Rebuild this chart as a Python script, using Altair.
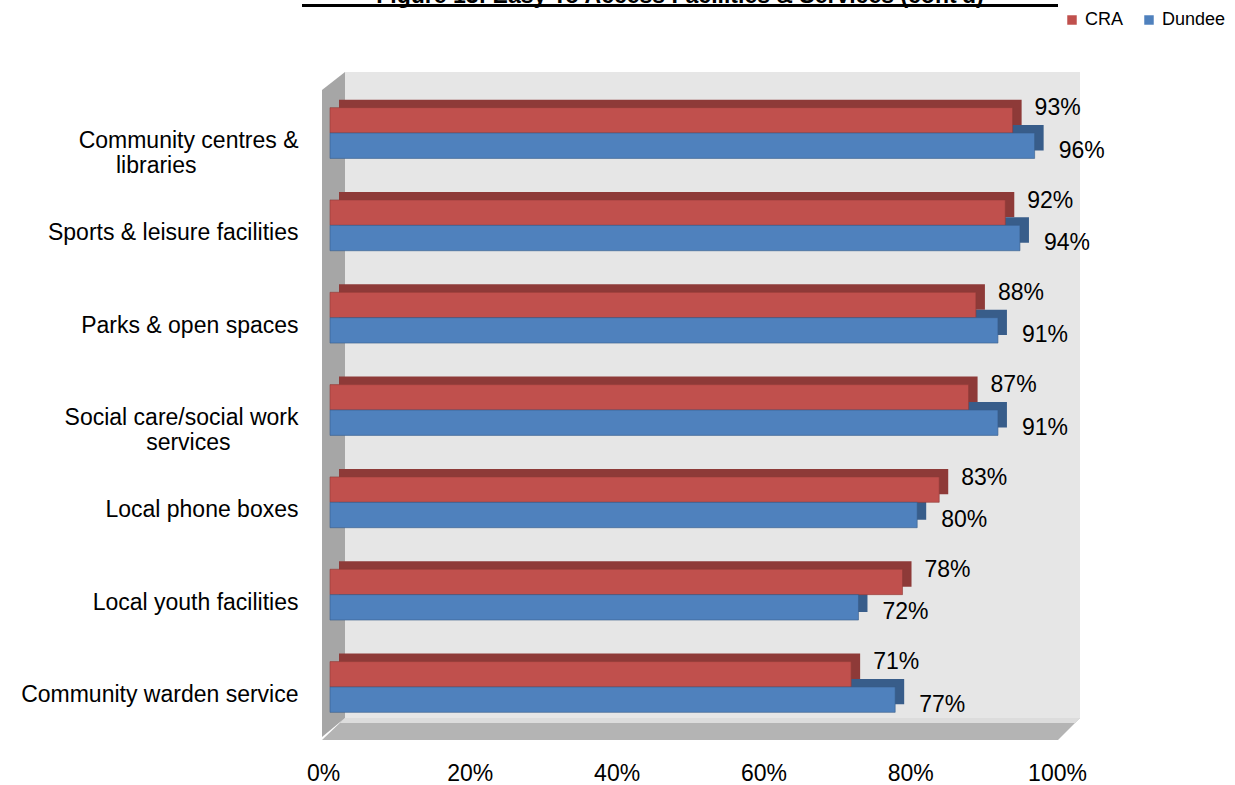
import altair as alt
import pandas as pd

# ---- data ----
PADCH = "\u2800"
categories = [
    "Community centres &|libraries" + PADCH * 6,
    "Sports & leisure  facilities",
    "Parks & open spaces",
    "Social care/social work|services" + PADCH * 4,
    "Local phone boxes",
    "Local youth facilities",
    "Community warden service",
]
cra = [0.93, 0.92, 0.88, 0.87, 0.83, 0.78, 0.71]
dundee = [0.96, 0.94, 0.91, 0.91, 0.80, 0.72, 0.77]
series = ["CRA", "Dundee"]
front_colors = ["#c0504d", "#4f81bd"]
depth_colors = ["#8e3a38", "#385d8a"]
x_ticks = [0, 0.2, 0.4, 0.6, 0.8, 1.0]
title_text = "Figure 13: Easy To Access Facilities & Services (cont'd)"

rows = []
for c, a, b in zip(categories, cra, dundee):
    rows.append({"category": c, "series": "CRA", "value": a})
    rows.append({"category": c, "series": "Dundee", "value": b})
df = pd.DataFrame(rows)

FONT = "Liberation Sans"
FS = 23
W, H = 734, 676
PAD_L, PAD_T = 330, 72
P_IN, P_OUT = 0.45, 0.386
STEP = H / (len(categories) - P_IN + 2 * P_OUT)
BW = STEP * (1 - P_IN)
DEPTH = 8

y_enc = alt.Y(
    "category:N",
    sort=categories,
    scale=alt.Scale(paddingInner=P_IN, paddingOuter=P_OUT),
    axis=alt.Axis(
        title=None,
        labelExpr="split(datum.label, '|')",
        labelFontSize=FS,
        labelFont=FONT,
        labelColor="#000000",
        labelLineHeight=25,
        labelPadding=32,
        labelOffset=8,
        labelLimit=500,
        domain=False,
        ticks=False,
        grid=False,
    ),
)
x_enc = alt.X(
    "value:Q",
    scale=alt.Scale(domain=[0, 1]),
    axis=alt.Axis(
        title=None,
        values=x_ticks,
        format=".0%",
        labelFontSize=FS,
        labelFont=FONT,
        labelColor="#000000",
        labelPadding=14,
        labelOffset=-7,
        labelFlush=False,
        domain=False,
        ticks=False,
        grid=False,
    ),
)
yoff_front = alt.YOffset("series:N", sort=series, scale=alt.Scale(domain=series, range=[0, BW]))
yoff_depth = alt.YOffset("series:N", sort=series, scale=alt.Scale(domain=series, range=[-DEPTH, BW - DEPTH]))

base = alt.Chart(df)

# ---- 3D box decoration (walls, floor) ----
back_wall = alt.Chart(pd.DataFrame({"a": [0]})).mark_rect(color="#e6e6e6").encode(
    x=alt.value(15), x2=alt.value(750), y=alt.value(0), y2=alt.value(646)
)
left_wall_df = pd.DataFrame({"px": [-8, 15], "top": [18, 0], "bot": [665, 646]})
left_wall = alt.Chart(left_wall_df).mark_area(color="#a6a6a6", orient="vertical").encode(
    x=alt.X("px:Q", scale=None),
    y=alt.Y("top:Q", scale=None),
    y2="bot:Q",
)
floor_df = pd.DataFrame({"py": [646, 668], "left": [15, -8], "right": [750, 728]})
floor = alt.Chart(floor_df).mark_area(color="#b4b4b4", orient="horizontal").encode(
    y=alt.Y("py:Q", scale=None),
    x=alt.X("left:Q", scale=None),
    x2="right:Q",
)
floor_top_df = pd.DataFrame({"py": [646, 651], "left": [15, 10], "right": [750, 745]})
floor_top = alt.Chart(floor_top_df).mark_area(color="#dcdcdc", orient="horizontal").encode(
    y=alt.Y("py:Q", scale=None),
    x=alt.X("left:Q", scale=None),
    x2="right:Q",
)

color_depth = alt.Color("series:N", scale=alt.Scale(domain=series, range=depth_colors), legend=None)
color_front = alt.Color(
    "series:N",
    scale=alt.Scale(domain=series, range=front_colors),
    legend=alt.Legend(
        title=None,
        orient="none",
        direction="horizontal",
        legendX=733,
        legendY=-61,
        symbolType="square",
        symbolSize=90,
        symbolStrokeWidth=0,
        labelFontSize=18,
        labelFont=FONT,
        labelColor="#000000",
        columnPadding=16,
        labelOffset=4,
    ),
)

depth = base.mark_bar(xOffset=9, x2Offset=9).encode(
    y=y_enc, x=x_enc, yOffset=yoff_depth, color=color_depth
)
front = base.mark_bar(strokeWidth=0.6).encode(
    y=y_enc,
    x=x_enc,
    yOffset=yoff_front,
    color=color_front,
    stroke=alt.Stroke("series:N", scale=alt.Scale(domain=series, range=depth_colors), legend=None),
)
labels_cra = alt.Chart(df[df.series == "CRA"]).mark_text(
    align="left", baseline="middle", dx=22, dy=-12, fontSize=FS, font=FONT, color="#000000"
).encode(y=y_enc, x=x_enc, yOffset=yoff_front, text=alt.Text("value:Q", format=".0%"))
labels_dun = alt.Chart(df[df.series == "Dundee"]).mark_text(
    align="left", baseline="middle", dx=24, dy=5, fontSize=FS, font=FONT, color="#000000"
).encode(y=y_enc, x=x_enc, yOffset=yoff_front, text=alt.Text("value:Q", format=".0%"))

title = alt.Chart(pd.DataFrame({"t": [title_text]})).mark_text(
    align="center", baseline="alphabetic", fontSize=23, fontWeight="bold", font=FONT, color="#000000"
).encode(x=alt.value(350), y=alt.value(-69.5), text="t:N")
underline = alt.Chart(pd.DataFrame({"a": [0]})).mark_rule(color="#000000", strokeWidth=3).encode(
    x=alt.value(-28), x2=alt.value(728), y=alt.value(-66.5)
)

chart = (
    alt.layer(back_wall, left_wall, floor, floor_top, depth, front, labels_cra, labels_dun, title, underline)
    .resolve_scale(color="independent", stroke="independent", yOffset="independent")
    .properties(
        width=W,
        height=H,
        autosize=alt.AutoSizeParams(type="none"),
        padding={"left": PAD_L, "top": PAD_T, "right": 1235 - PAD_L - W, "bottom": 785 - PAD_T - H},
        background="#ffffff",
    )
    .configure_view(stroke=None)
)

chart.save("out.html", embed_options={"renderer": "svg", "actions": False})
